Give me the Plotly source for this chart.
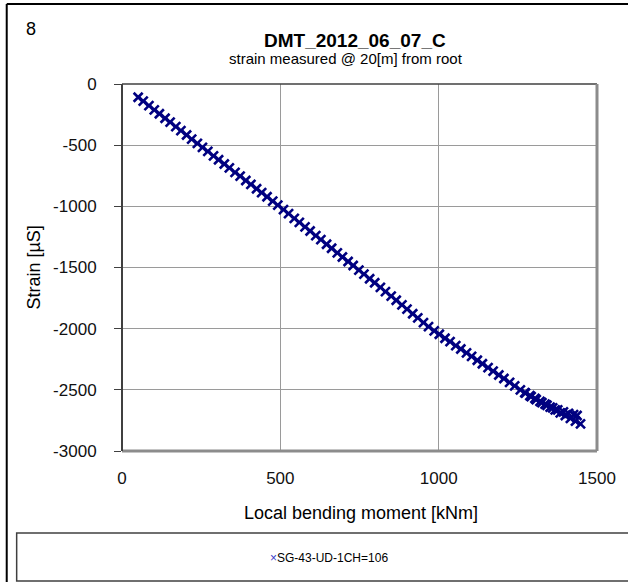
import plotly.graph_objects as go

# Local bending moment [kNm] and measured strain [µS] (loading, then unloading near the peak)
moment = [51, 67, 85, 102, 118, 136, 152, 170, 186, 204, 220, 238, 254, 271, 289, 305,
          323, 339, 357, 373, 391, 407, 425, 441, 458, 476, 492, 510, 526, 544, 560, 578,
          594, 612, 628, 646, 662, 680, 696, 714, 730, 748, 764, 782, 798, 816, 832, 850,
          866, 884, 900, 918, 934, 952, 968, 986, 1002, 1020, 1036, 1054, 1070, 1088, 1104,
          1122, 1138, 1156, 1172, 1190, 1206, 1224, 1240, 1258, 1274, 1292, 1308, 1326,
          1342, 1360, 1376, 1394, 1410, 1426, 1437,
          1448, 1432, 1416, 1400, 1384, 1368, 1352, 1336, 1320, 1304, 1288, 1272]
strain = [-108, -140, -177, -211, -243, -280, -312, -348, -381, -417, -450, -486, -518,
          -551, -587, -619, -654, -686, -722, -753, -789, -821, -856, -888, -922, -958,
          -990, -1027, -1060, -1098, -1131, -1168, -1202, -1239, -1272, -1310, -1343,
          -1380, -1414, -1451, -1484, -1521, -1554, -1592, -1625, -1663, -1697, -1734,
          -1768, -1806, -1840, -1878, -1912, -1950, -1983, -2018, -2046, -2078, -2106,
          -2138, -2166, -2198, -2226, -2258, -2287, -2318, -2347, -2379, -2407, -2439,
          -2468, -2500, -2527, -2555, -2580, -2605, -2626, -2648, -2664, -2680, -2692,
          -2703, -2710,
          -2778, -2756, -2733, -2710, -2688, -2664, -2641, -2617, -2594, -2570, -2547, -2523]

series_name = "SG-43-UD-1CH=106"
x_ticks = [0, 500, 1000, 1500]
y_ticks = [0, -500, -1000, -1500, -2000, -2500, -3000]
y_tick_text = ["0", "-500", "-1000", "-1500", "-2000", "-2500", "-3000"]

W, H = 628, 582
L, R, T, B = 122, 600, 84, 451
FONT = "Liberation Sans, Arial, sans-serif"
NAVY = "#000080"


def px(xp):
    return (xp - L) / (R - L)


def py(yp):
    return (B - yp) / (B - T)


fig = go.Figure()
fig.add_trace(go.Scatter(
    x=moment, y=strain, mode="markers", name=series_name,
    marker=dict(symbol="x-thin", size=9, color=NAVY,
                line=dict(color=NAVY, width=2.6)),
    showlegend=False,
))

fig.update_layout(
    width=W, height=H,
    margin=dict(l=L, r=W - R, t=T, b=H - B, pad=0),
    paper_bgcolor="white", plot_bgcolor="white",
    font=dict(family=FONT, color="#000", size=17),
    xaxis=dict(range=[0, 1500], tickvals=x_ticks, ticks="", showline=False,
               showgrid=True, gridcolor="#9a9a9a", gridwidth=1, zeroline=False,
               tickfont=dict(size=17, color="#111"), ticklabelstandoff=15),
    yaxis=dict(range=[-3000, 0], tickvals=y_ticks, ticktext=y_tick_text,
               ticks="outside", ticklen=7,
               tickcolor="#404040", tickwidth=1, showline=False,
               showgrid=True, gridcolor="#9a9a9a", gridwidth=1, zeroline=False,
               tickfont=dict(size=17, color="#111"), ticklabelstandoff=14),
)

shapes = [
    # plot area frame
    dict(type="line", xref="paper", yref="paper", x0=0, x1=1, y0=1, y1=1,
         line=dict(color="#404040", width=1.5)),
    dict(type="line", xref="paper", yref="paper", x0=1, x1=1, y0=0, y1=1,
         line=dict(color="#8c8c8c", width=3)),
    dict(type="line", xref="paper", yref="paper", x0=0, x1=1, y0=0, y1=0,
         line=dict(color="#8c8c8c", width=3)),
    dict(type="line", xref="paper", yref="paper", x0=0, x1=0, y0=0, y1=1,
         line=dict(color="#404040", width=2)),
    # page frame
    dict(type="line", xref="paper", yref="paper", x0=px(6), x1=px(640), y0=py(4), y1=py(4),
         line=dict(color="#000", width=2)),
    dict(type="line", xref="paper", yref="paper", x0=px(6), x1=px(6), y0=py(4), y1=py(600),
         line=dict(color="#000", width=2)),
    # legend box
    dict(type="rect", xref="paper", yref="paper", x0=px(16), x1=px(660), y0=py(533), y1=py(581),
         line=dict(color="#404040", width=1.5)),
]

annotations = [
    dict(text="8", x=px(30), y=py(29), font=dict(size=18, family=FONT)),
    dict(text="<b>DMT_2012_06_07_C</b>", x=px(356), y=py(40), font=dict(size=19)),
    dict(text="strain measured @ 20[m] from root", x=px(347), y=py(58), font=dict(size=15)),
    dict(text="Local bending moment [kNm]", x=px(363), y=py(513), font=dict(size=18)),
    dict(text="Strain [µS]", x=px(33), y=py(268), textangle=-90, font=dict(size=18)),
    dict(text="<span style='color:#3a3ac8'>×</span>" + series_name,
         x=px(330), y=py(558), font=dict(size=12)),
]
for a in annotations:
    a.update(xref="paper", yref="paper", showarrow=False, xanchor="center", yanchor="middle")

fig.update_layout(shapes=shapes, annotations=annotations)
fig.write_html("out.html")
